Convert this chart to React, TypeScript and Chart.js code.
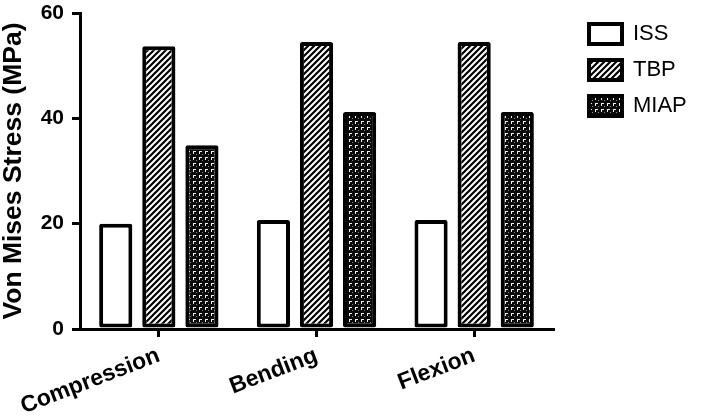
import React, { useEffect, useRef } from "react";
import { Chart, registerables } from "chart.js";

Chart.register(...registerables);

const categories = ["Compression", "Bending", "Flexion"];
const seriesNames = ["ISS", "TBP", "MIAP"];
const issValues = [20, 20.7, 20.7];
const tbpValues = [53.7, 54.5, 54.5];
const miapValues = [34.9, 41.2, 41.2];
const yTicks = [0, 20, 40, 60];

function makeHatch(): CanvasPattern | string {
  const c = document.createElement("canvas");
  c.width = 6;
  c.height = 6;
  const ctx = c.getContext("2d");
  if (!ctx) return "#fff";
  ctx.fillStyle = "#fff";
  ctx.fillRect(0, 0, 6, 6);
  ctx.strokeStyle = "#000";
  ctx.lineWidth = 2.2;
  ctx.beginPath();
  ctx.moveTo(-1, 7);
  ctx.lineTo(7, -1);
  ctx.moveTo(-4, 4);
  ctx.lineTo(4, -4);
  ctx.moveTo(2, 10);
  ctx.lineTo(10, 2);
  ctx.stroke();
  return ctx.createPattern(c, "repeat") || "#fff";
}

function makeDots(): CanvasPattern | string {
  const c = document.createElement("canvas");
  c.width = 6;
  c.height = 6;
  const ctx = c.getContext("2d");
  if (!ctx) return "#000";
  ctx.fillStyle = "#0a0a0a";
  ctx.fillRect(0, 0, 6, 6);
  ctx.fillStyle = "#f0f0f0";
  ctx.fillRect(1, 1, 3, 1);
  ctx.fillRect(1, 2, 1, 2);
  ctx.fillStyle = "#888";
  ctx.fillRect(4, 4, 1, 1);
  return ctx.createPattern(c, "repeat") || "#000";
}

export default function App() {
  const ref = useRef<HTMLCanvasElement | null>(null);

  useEffect(() => {
    if (!ref.current) return;
    const font = "'Liberation Sans', Arial, Helvetica, sans-serif";
    const common = {
      borderColor: "#000",
      borderWidth: 4,
      borderSkipped: false as const,
      borderRadius: 2,
      categoryPercentage: 0.82,
      barPercentage: 0.77,
    };
    const chart = new Chart(ref.current, {
      type: "bar",
      data: {
        labels: categories,
        datasets: [
          { label: seriesNames[0], data: issValues, backgroundColor: "#fff", ...common },
          { label: seriesNames[1], data: tbpValues, backgroundColor: makeHatch() as any, ...common },
          { label: seriesNames[2], data: miapValues, backgroundColor: makeDots() as any, ...common },
        ],
      },
      options: {
        animation: false,
        responsive: false,
        maintainAspectRatio: false,
        layout: { padding: { top: 9, right: 19, left: 0, bottom: 0 } },
        plugins: {
          tooltip: { enabled: false },
          legend: {
            position: "right",
            align: "start",
            labels: {
              boxWidth: 33,
              boxHeight: 20,
              padding: 14,
              color: "#000",
              font: { family: font, size: 22 },
            },
          },
        },
        scales: {
          x: {
            afterFit: (axis: any) => {
              axis.height = 88;
            },
            grid: {
              display: true,
              drawOnChartArea: false,
              drawTicks: true,
              tickLength: 8,
              color: "#000",
              lineWidth: 3,
              offset: false,
            },
            border: { display: true, color: "#000", width: 3 },
            ticks: {
              color: "#000",
              font: { family: font, size: 23, weight: "bold" },
              minRotation: 21,
              maxRotation: 21,
              padding: 5,
            },
          },
          y: {
            min: 0,
            max: 60,
            afterFit: (axis: any) => {
              axis.width = 80;
            },
            afterBuildTicks: (axis: any) => {
              axis.ticks = yTicks.map((v) => ({ value: v }));
            },
            grid: {
              display: true,
              drawOnChartArea: false,
              drawTicks: true,
              tickLength: 8,
              color: "#000",
              lineWidth: 3,
            },
            border: { display: true, color: "#000", width: 3 },
            ticks: {
              color: "#000",
              font: { family: font, size: 21, weight: "bold", lineHeight: 0.48 },
              padding: 8,
            },
            title: {
              display: true,
              text: "Von Mises Stress (MPa)",
              color: "#000",
              font: { family: font, size: 26.5, weight: "bold", lineHeight: 1 },
              padding: { top: 0, bottom: 4 },
            },
          },
          gap: {
            type: "linear",
            position: "right",
            display: true,
            afterFit: (axis: any) => {
              axis.width = 22;
            },
            grid: { display: false, drawTicks: false },
            border: { display: false },
            ticks: { display: false },
          },
        },
      },
    });
    return () => chart.destroy();
  }, []);

  return (
    <div style={{ position: "fixed", left: 0, top: 0, width: 709, height: 417, background: "#fff" }}>
      <canvas ref={ref} width={709} height={417} style={{ width: 709, height: 417 }} />
    </div>
  );
}
